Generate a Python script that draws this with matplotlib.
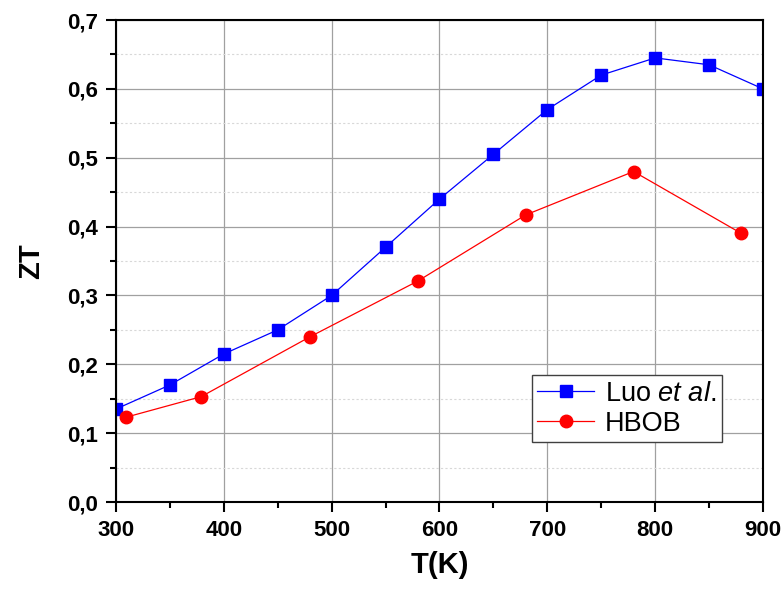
import matplotlib
matplotlib.use("Agg")
import matplotlib.pyplot as plt
from matplotlib.ticker import MultipleLocator, FuncFormatter

# data
luo_t = [300, 350, 400, 450, 500, 550, 600, 650, 700, 750, 800, 850, 900]
luo_zt = [0.135, 0.17, 0.215, 0.25, 0.30, 0.37, 0.44, 0.505, 0.57, 0.62, 0.645, 0.635, 0.60]
hbob_t = [309, 379, 480, 580, 680, 780, 880]
hbob_zt = [0.123, 0.153, 0.24, 0.321, 0.417, 0.48, 0.39]

plt.rcParams['font.family'] = ['Liberation Sans', 'DejaVu Sans']
plt.rcParams['mathtext.fontset'] = 'custom'
plt.rcParams['mathtext.rm'] = 'Liberation Sans'
plt.rcParams['mathtext.it'] = 'Liberation Sans:italic'

fig = plt.figure(figsize=(7.82, 5.89), dpi=100)
ax = fig.add_axes([0.1483, 0.1477, 0.8274, 0.8183])

ax.plot(luo_t, luo_zt, color='blue', lw=0.9, marker='s', ms=8.5,
        markeredgecolor='blue', label='Luo $\\mathit{et\\ al.}$')
ax.plot(hbob_t, hbob_zt, color='red', lw=0.9, marker='o', ms=9,
        markeredgecolor='red', label='HBOB')

ax.set_xlim(300, 900)
ax.set_ylim(0, 0.7)
ax.xaxis.set_major_locator(MultipleLocator(100))
ax.xaxis.set_minor_locator(MultipleLocator(50))
ax.yaxis.set_major_locator(MultipleLocator(0.1))
ax.yaxis.set_minor_locator(MultipleLocator(0.05))
ax.yaxis.set_major_formatter(FuncFormatter(lambda v, p: f"{v:.1f}".replace('.', ',')))

ax.grid(which='major', color='#a0a0a0', lw=0.9, ls='-')
ax.grid(which='minor', axis='y', color='#d8d8d8', lw=0.8, ls=(0, (2, 2)))
ax.set_axisbelow(True)

for s in ax.spines.values():
    s.set_linewidth(1.5)
ax.tick_params(which='major', direction='out', length=7, width=1.5, labelsize=16, pad=6)
ax.tick_params(which='minor', direction='out', length=4, width=1.5)
ax.tick_params(top=False, right=False)
for lab in ax.get_xticklabels() + ax.get_yticklabels():
    lab.set_fontweight('bold')

ax.set_xlabel('T(K)', fontsize=21, fontweight='bold', labelpad=7)
ax.set_ylabel('ZT', fontsize=21, fontweight='bold', labelpad=16)

leg = ax.legend(loc='lower left', bbox_to_anchor=(0.643, 0.124), fontsize=19.5,
                fancybox=False, edgecolor='#404040', framealpha=1,
                handlelength=2.1, borderpad=0.2, labelspacing=0.15, handletextpad=0.4,
                borderaxespad=0.0)
leg.get_frame().set_linewidth(1.0)

fig.savefig('out.png', dpi=100)
